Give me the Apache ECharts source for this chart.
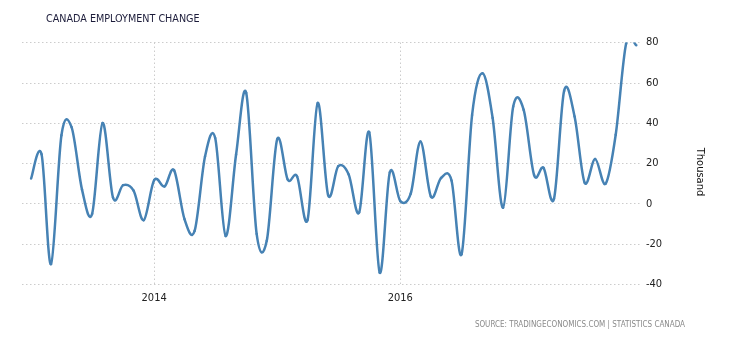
<!DOCTYPE html>
<html>
<head>
<meta charset="utf-8">
<script src="https://cdn.jsdelivr.net/npm/echarts@6/dist/echarts.min.js"></script>
<style>
html,body{margin:0;padding:0;background:#fff;}
#chart{width:730px;height:340px;}
</style>
</head>
<body>
<div id="chart"></div>
<script>
// Monthly data, Jan 2013 – Dec 2017 (thousand)
var months = [
  '2013-01','2013-02','2013-03','2013-04','2013-05','2013-06','2013-07','2013-08','2013-09','2013-10','2013-11','2013-12',
  '2014-01','2014-02','2014-03','2014-04','2014-05','2014-06','2014-07','2014-08','2014-09','2014-10','2014-11','2014-12',
  '2015-01','2015-02','2015-03','2015-04','2015-05','2015-06','2015-07','2015-08','2015-09','2015-10','2015-11','2015-12',
  '2016-01','2016-02','2016-03','2016-04','2016-05','2016-06','2016-07','2016-08','2016-09','2016-10','2016-11','2016-12',
  '2017-01','2017-02','2017-03','2017-04','2017-05','2017-06','2017-07','2017-08','2017-09','2017-10','2017-11','2017-12'
];
var employmentChange = [
  12.5, 24.5, -30, 34, 38, 7, -5, 40, 3, 9.2, 6.5, -8.2,
  11.7, 8.6, 16.6, -7.7, -13.5, 23.5, 32.6, -16, 24.4, 55, -15, -18.4,
  32, 12, 13.5, -8, 50, 4.3, 18.6, 14.5, -4.4, 35.4, -34.2, 15.6,
  1.3, 5, 30.9, 3.5, 12.8, 11.5, -25, 44, 64.7, 42.5, -2, 48.2,
  46.6, 14.2, 17.8, 2.5, 56, 43.3, 10.4, 22.2, 9.9, 34.2, 79.5, 78.6
];
var yearTicks = ['2014-01-01', '2016-01-01'];
var yTicks = [-40, -20, 0, 20, 40, 60, 80];

function ts(s) {
  var p = s.split('-');
  return Date.UTC(+p[0], +p[1] - 1, p[2] ? +p[2] : 1);
}
var seriesData = months.map(function (m, i) { return [ts(m), employmentChange[i]]; });
var tickVals = yearTicks.map(ts);
var FONT = 'DejaVu Sans Condensed, DejaVu Sans';
var LINE = '#4682b4';

var chart = echarts.init(document.getElementById('chart'), null, {renderer: 'canvas'});
chart.setOption({
  animation: false,
  backgroundColor: '#ffffff',
  title: {
    text: 'CANADA EMPLOYMENT CHANGE',
    left: 41, top: 9,
    textStyle: {fontFamily: FONT, fontSize: 10.7, fontWeight: 'normal', color: '#1c1c3a'}
  },
  grid: {left: 22, right: 88, top: 42.5, bottom: 55.7},
  xAxis: {
    type: 'value',
    min: Date.UTC(2012, 11, 5),
    max: Date.UTC(2017, 11, 18),
    axisLine: {show: false},
    axisTick: {show: false, customValues: tickVals},
    axisLabel: {
      customValues: tickVals,
      margin: 8,
      fontFamily: FONT, fontSize: 11, color: '#222',
      formatter: function (v) { return String(new Date(v).getUTCFullYear()); }
    },
    splitLine: {show: true, lineStyle: {color: '#cccccc', type: [1.5, 2.5], width: 1}}
  },
  yAxis: {
    type: 'value',
    position: 'right',
    min: yTicks[0], max: yTicks[yTicks.length - 1], interval: 20,
    axisLine: {show: false},
    axisTick: {show: false},
    axisLabel: {margin: 4, fontFamily: FONT, fontSize: 11, color: '#222'},
    splitLine: {show: true, lineStyle: {color: '#cccccc', type: [1.5, 2.5], width: 1}}
  },
  graphic: [{
    type: 'text',
    x: 700, y: 172,
    rotation: -Math.PI / 2,
    style: {
      text: 'Thousand', fontFamily: FONT, fontSize: 11, fill: '#111',
      align: 'center', verticalAlign: 'middle'
    }
  }, {
    type: 'text',
    right: 45, top: 321,
    style: {
      text: 'SOURCE: TRADINGECONOMICS.COM | STATISTICS CANADA',
      fontFamily: FONT, fontSize: 8, fill: '#8a8a8a'
    }
  }],
  series: [{
    type: 'custom',
    clip: true,
    data: seriesData,
    encode: {x: 0, y: 1},
    renderItem: function (params, api) {
      var i = params.dataIndex;
      var n = seriesData.length;
      if (i >= n - 1) return null;
      function pt(k) {
        k = Math.max(0, Math.min(n - 1, k));
        return api.coord(seriesData[k]);
      }
      var p0 = pt(i - 1), p1 = pt(i), p2 = pt(i + 1), p3 = pt(i + 2);
      return {
        type: 'bezierCurve',
        shape: {
          x1: p1[0], y1: p1[1], x2: p2[0], y2: p2[1],
          cpx1: p1[0] + (p2[0] - p0[0]) / 6, cpy1: p1[1] + (p2[1] - p0[1]) / 6,
          cpx2: p2[0] - (p3[0] - p1[0]) / 6, cpy2: p2[1] - (p3[1] - p1[1]) / 6
        },
        style: {stroke: LINE, lineWidth: 2.5, fill: null, lineCap: 'round'}
      };
    }
  }]
});
</script>
</body>
</html>
